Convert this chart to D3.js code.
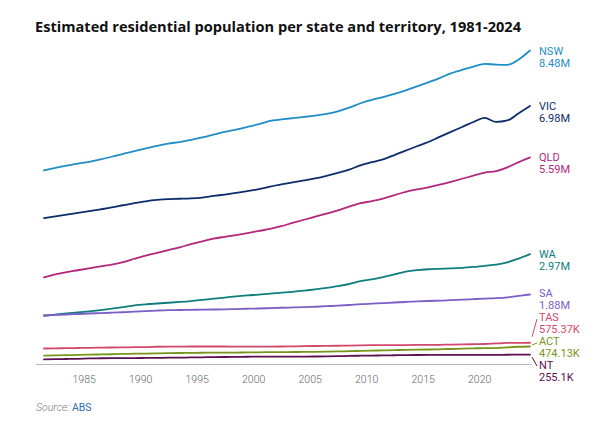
<!DOCTYPE html>
<html><head><meta charset="utf-8">
<script src="https://cdn.jsdelivr.net/npm/d3@7"></script>
<style>
html,body{margin:0;padding:0;background:#fff;}
svg{display:block;}
</style></head>
<body>
<svg id="chart" width="596" height="421"></svg>
<script>
// ---- data (thousands of people, June each year) ----
const years = d3.range(1981, 2025);
const states = ["NSW","VIC","QLD","WA","SA","TAS","ACT","NT"];
const colors = ["#1f8ec6","#0c2c6c","#b3267c","#0f7e7e","#7b5ec6","#d2486c","#77951d","#5c104f"];
const NSW = [5235,5307,5369,5418,5469,5532,5606,5687,5758,5834,5899,5963,6004,6061,6128,6204,6277,6340,6411,6486,6575,6615,6650,6683,6720,6768,6835,6934,7053,7144,7218,7304,7404,7508,7618,7732,7861,7955,8046,8118,8098,8093,8237,8480];
const VIC = [3947,3993,4040,4085,4133,4183,4235,4294,4351,4401,4438,4461,4470,4480,4503,4545,4584,4627,4676,4729,4800,4859,4913,4966,5023,5092,5171,5259,5371,5460,5537,5651,5772,5891,6005,6143,6279,6412,6547,6656,6548,6589,6782,6980];
const QLD = [2345,2425,2486,2536,2588,2641,2690,2757,2847,2933,3005,3080,3157,3240,3317,3390,3441,3488,3540,3598,3653,3728,3817,3902,3984,4066,4157,4256,4349,4405,4476,4568,4659,4722,4778,4849,4929,5011,5095,5176,5218,5320,5460,5590];
const WA  = [1300,1338,1370,1395,1425,1459,1496,1538,1584,1614,1636,1657,1678,1703,1734,1766,1798,1830,1856,1878,1906,1928,1952,1982,2017,2059,2106,2164,2240,2291,2353,2425,2500,2541,2563,2575,2584,2599,2625,2657,2686,2750,2852,2970];
const SA  = [1319,1329,1339,1353,1366,1378,1388,1400,1414,1432,1446,1457,1461,1466,1469,1474,1480,1487,1494,1501,1512,1521,1529,1537,1549,1563,1578,1596,1617,1632,1646,1663,1678,1692,1704,1714,1726,1739,1755,1770,1782,1803,1841,1880];
const TAS = [419,423,429,433,437,442,446,449,454,459,466,470,472,473,474,474,473,471,470,470,471,473,478,483,487,490,493,498,503,508,512,512,513,515,517,520,524,529,535,541,556,569,572,575.37];
const ACT = [227,232,238,245,252,259,264,272,278,283,289,294,298,301,304,308,309,310,313,316,320,322,324,326,329,334,340,346,354,361,368,375,383,387,392,398,406,415,423,430,431,451,466,474.13];
const NT  = [123,130,135,141,150,155,157,158,160,163,166,170,173,177,181,186,190,193,196,199,198,199,199,200,203,207,212,218,224,229,232,237,242,244,245,246,248,247,246,246,247,250,252,255.1];
const seriesValues = [NSW,VIC,QLD,WA,SA,TAS,ACT,NT];
const tickYears = [1985,1990,1995,2000,2005,2010,2015,2020];
const title = "Estimated residential population per state and territory, 1981-2024";

// ---- layout ----
const svg = d3.select("#chart");
const xLeft = 44, xRight = 530, yBase = 364, yTop = 50.5;
const dateOf = y => new Date(y, 5, 30);
const x = d3.scaleTime().domain([dateOf(1981), dateOf(2024)]).range([xLeft, xRight]);
const y = d3.scaleLinear().domain([0, 8480]).range([yBase, yTop]);

svg.append("text").attr("x", 35).attr("y", 32)
  .attr("font-family", "'Open Sans', sans-serif").attr("font-weight", 700)
  .attr("font-size", 14.6).attr("fill", "#111").text(title)
  .attr("textLength", 486).attr("lengthAdjust", "spacingAndGlyphs");

// axis baseline
svg.append("line").attr("x1", 36).attr("x2", xRight + 2).attr("y1", yBase + 0.5).attr("y2", yBase + 0.5)
  .attr("stroke", "#b8b8b8").attr("stroke-width", 1);

const xAxis = d3.axisBottom(x).tickValues(tickYears.map(t => new Date(t, 0, 1)))
  .tickFormat(d3.timeFormat("%Y")).tickSize(0).tickPadding(12);
const gx = svg.append("g").attr("transform", `translate(0,${yBase})`).call(xAxis);
gx.select(".domain").remove();
gx.selectAll("text").attr("font-family", "Roboto, sans-serif").attr("font-weight", 300)
  .attr("font-size", 10.5).attr("fill", "#666");

// lines
const line = d3.line().x((d, i) => x(dateOf(years[i]))).y(d => y(d)).curve(d3.curveMonotoneX);
svg.append("g").selectAll("path").data(seriesValues).join("path")
  .attr("d", line).attr("fill", "none")
  .attr("stroke", (d, i) => colors[i]).attr("stroke-width", 1.8)
  .attr("stroke-linejoin", "round").attr("stroke-linecap", "round");

// labels with collision avoidance
const fmt = v => v >= 1000 ? (+(v / 1000).toFixed(2)) + "M" : (+v.toFixed(2)) + "K";
const labs = states.map((s, i) => {
  const last = seriesValues[i][seriesValues[i].length - 1];
  return {name: s, val: fmt(last), color: colors[i], ly: y(last), yy: y(last)};
}).sort((a, b) => a.ly - b.ly);
const gap = 24, maxY = 365;
for (let i = 1; i < labs.length; i++) labs[i].yy = Math.max(labs[i].yy, labs[i-1].yy + gap);
labs[labs.length - 1].yy = Math.min(labs[labs.length - 1].yy, maxY);
for (let i = labs.length - 2; i >= 0; i--) labs[i].yy = Math.min(labs[i].yy, labs[i+1].yy - gap);

const lg = svg.append("g").attr("font-family", "Roboto, sans-serif").attr("font-size", 11);
labs.forEach(l => {
  const dy = l.yy - l.ly;
  if (Math.abs(dy) > 1.5) {
    const s = Math.sign(dy);
    lg.append("line").attr("x1", xRight + 2).attr("y1", l.ly + s * Math.min(Math.abs(dy) * 0.25, 6))
      .attr("x2", xRight + 7).attr("y2", l.yy + (s > 0 ? 1 : 2))
      .attr("stroke", l.color).attr("stroke-width", 1);
  }
  lg.append("text").attr("x", 539).attr("y", l.yy + 4).attr("fill", l.color).text(l.name);
  lg.append("text").attr("x", 539).attr("y", l.yy + 16).attr("fill", l.color).text(l.val);
});

// source
const src = svg.append("text").attr("x", 36).attr("y", 411)
  .attr("font-family", "Roboto, sans-serif").attr("font-size", 10.5).attr("font-weight", 300);
src.append("tspan").attr("font-style", "italic").attr("fill", "#777").text("Source: ");
src.append("tspan").attr("fill", "#2f6db5").attr("font-weight", 400).text("ABS");
</script>
</body></html>
